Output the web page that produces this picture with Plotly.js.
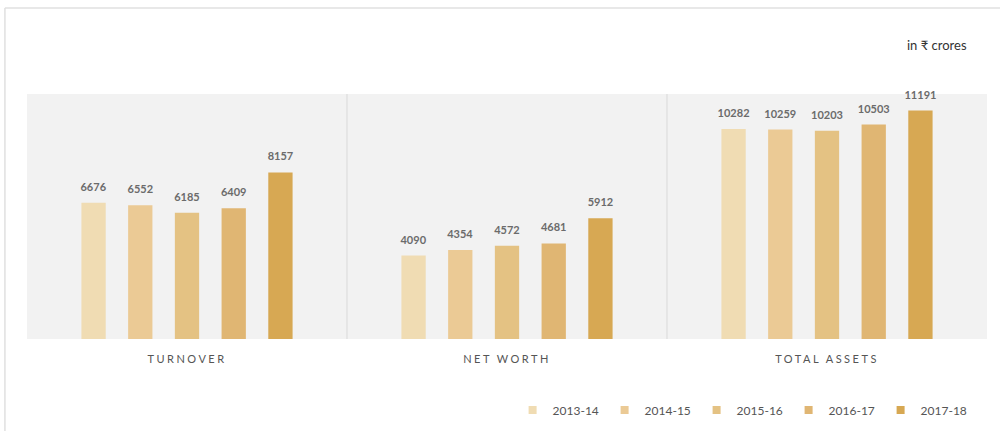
<!DOCTYPE html>
<html>
<head>
<meta charset="utf-8">
<script src="https://cdn.plot.ly/plotly-3.0.1.min.js"></script>
<style>
  html, body { margin: 0; padding: 0; background: #ffffff; }
  #chart { width: 1000px; height: 431px; }
</style>
</head>
<body>
<div id="chart"></div>
<script>
// Data
const categories = ["TURNOVER", "NET WORTH", "TOTAL ASSETS"];
const years = ["2013-14", "2014-15", "2015-16", "2016-17", "2017-18"];
const v2013_14 = [6676, 4090, 10282];
const v2014_15 = [6552, 4354, 10259];
const v2015_16 = [6185, 4572, 10203];
const v2016_17 = [6409, 4681, 10503];
const v2017_18 = [8157, 5912, 11191];
const seriesValues = [v2013_14, v2014_15, v2015_16, v2016_17, v2017_18];
const unitNote = "in ₹ crores";

const colors = ["#f0dcb3", "#ebca95", "#e4c283", "#e0b673", "#d7a853"];

const traces = years.map((y, i) => ({
  type: "bar",
  name: y,
  x: categories,
  y: seriesValues[i],
  marker: { color: colors[i] },
  text: seriesValues[i].map(String),
  textposition: "outside",
  constraintext: "none",
  cliponaxis: false,
  outsidetextfont: { family: "Lato, 'Open Sans', sans-serif", size: 11, color: "#6b6b6b", weight: "bold" },
  hoverinfo: "x+y+name"
}));

const layout = {
  width: 1000,
  height: 431,
  margin: { l: 27, r: 13, t: 94, b: 92, autoexpand: false },
  paper_bgcolor: "#ffffff",
  plot_bgcolor: "#f2f2f2",
  barmode: "group",
  bargap: 0.27,
  bargroupgap: 0.48,
  font: { family: "Lato, 'Open Sans', sans-serif", color: "#555555" },
  xaxis: {
    type: "category",
    showgrid: false,
    zeroline: false,
    showline: false,
    ticks: "",
    tickfont: { size: 11, color: "#555555" },
    ticklabelstandoff: 12,
    automargin: false
  },
  yaxis: {
    range: [0, 12000],
    visible: false,
    showgrid: false,
    zeroline: false
  },
  showlegend: true,
  legend: {
    orientation: "h",
    x: 0.985,
    xanchor: "right",
    y: -0.29,
    yanchor: "middle",
    font: { size: 12, color: "#555555" },
    entrywidth: 47,
    itemwidth: 30,
    traceorder: "normal",
    bgcolor: "rgba(0,0,0,0)"
  },
  shapes: [
    { type: "line", xref: "x", yref: "paper", x0: 0.5, x1: 0.5, y0: 0, y1: 1, line: { color: "#d9d9d9", width: 1 } },
    { type: "line", xref: "x", yref: "paper", x0: 1.5, x1: 1.5, y0: 0, y1: 1, line: { color: "#d9d9d9", width: 1 } },
    { type: "line", xref: "paper", yref: "paper", x0: -0.023, x1: 1.02, y0: 1.351, y1: 1.351, line: { color: "#e0e0e0", width: 1.5 } },
    { type: "line", xref: "paper", yref: "paper", x0: -0.023, x1: -0.023, y0: 1.351, y1: -0.38, line: { color: "#e0e0e0", width: 1.5 } }
  ],
  annotations: [
    {
      text: unitNote,
      xref: "paper", yref: "paper",
      x: 0.981, y: 1.2, xanchor: "right", yanchor: "middle",
      showarrow: false,
      font: { family: "Lato, 'Open Sans', 'DejaVu Sans', sans-serif", size: 13, color: "#333333" }
    }
  ]
};

Plotly.newPlot("chart", traces, layout, { displayModeBar: false, staticPlot: true }).then(() => {
  document.querySelectorAll("#chart .xtick text").forEach(t => {
    t.style.letterSpacing = "2.5px";
  });
  document.querySelectorAll("#chart .legend .legendpoints path").forEach(p => {
    p.setAttribute("d", "M4,4H-4V-4H4Z");
  });
  document.querySelectorAll("#chart .bartext").forEach(t => {
    const tr = t.getAttribute("transform") || "";
    t.setAttribute("transform", "translate(0,-7) " + tr);
  });
});
</script>
</body>
</html>
